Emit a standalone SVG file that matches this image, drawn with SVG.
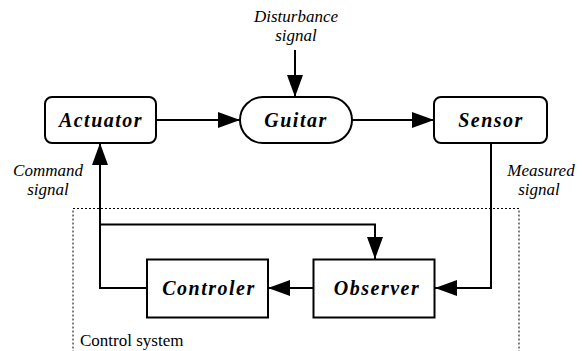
<svg xmlns="http://www.w3.org/2000/svg" width="582" height="351" viewBox="0 0 582 351">
  <style>
    .box { fill: #fff; stroke: #000; stroke-width: 2; }
    .wire { fill: none; stroke: #000; stroke-width: 2; marker-end: url(#head); }
    text { font-family: "Liberation Serif", "Times New Roman", Tinos, "Noto Serif", "DejaVu Serif", FreeSerif, Times, serif; }
    .name { font-weight: bold; font-style: italic; font-size: 20px; text-anchor: middle; letter-spacing: 1.5px; }
    .sig { font-style: italic; font-size: 17px; text-anchor: middle; }
    .note { font-size: 17px; }
  </style>
  <defs>
    <marker id="head" markerUnits="userSpaceOnUse" markerWidth="22" markerHeight="16" refX="22" refY="8" orient="auto">
      <path d="M0,0 L22,8 L0,16 z" fill="#000"/>
    </marker>
  </defs>

  <!-- control system boundary -->
  <rect x="73" y="208.5" width="446" height="160" fill="none" stroke="#000" stroke-width="1" stroke-dasharray="2,2"/>
  <text class="note" x="80" y="346">Control system</text>

  <!-- signal labels -->
  <text class="sig" x="296" y="22">Disturbance</text>
  <text class="sig" x="296" y="41">signal</text>
  <text class="sig" x="48" y="176">Command</text>
  <text class="sig" x="48" y="195">signal</text>
  <text class="sig" x="541" y="176">Measured</text>
  <text class="sig" x="539" y="195">signal</text>

  <g id="connectors">
    <line class="wire" x1="295" y1="50" x2="295" y2="97"/>
    <line class="wire" x1="157" y1="120" x2="240" y2="120"/>
    <line class="wire" x1="352" y1="120" x2="434" y2="120"/>
    <polyline class="wire" points="491,143 491,288 435,288"/>
    <line class="wire" x1="313" y1="288" x2="268" y2="288"/>
    <polyline class="wire" points="147,288 100,288 100,143"/>
    <polyline class="wire" points="100,224.5 375,224.5 375,259"/>
  </g>

  <g id="actuator">
    <rect class="box" x="45" y="97" width="111" height="46" rx="7"/>
    <text class="name" x="101" y="127">Actuator</text>
  </g>
  <g id="guitar">
    <rect class="box" x="240" y="97" width="112" height="46" rx="23"/>
    <text class="name" x="296" y="127">Guitar</text>
  </g>
  <g id="sensor">
    <rect class="box" x="434" y="97" width="113" height="46" rx="7"/>
    <text class="name" x="491" y="127">Sensor</text>
  </g>
  <g id="observer">
    <rect class="box" x="313.5" y="259.5" width="121" height="58"/>
    <text class="name" x="377" y="295">Observer</text>
  </g>
  <g id="controler">
    <rect class="box" x="147" y="259.5" width="121" height="58"/>
    <text class="name" x="209" y="295">Controler</text>
  </g>
</svg>
